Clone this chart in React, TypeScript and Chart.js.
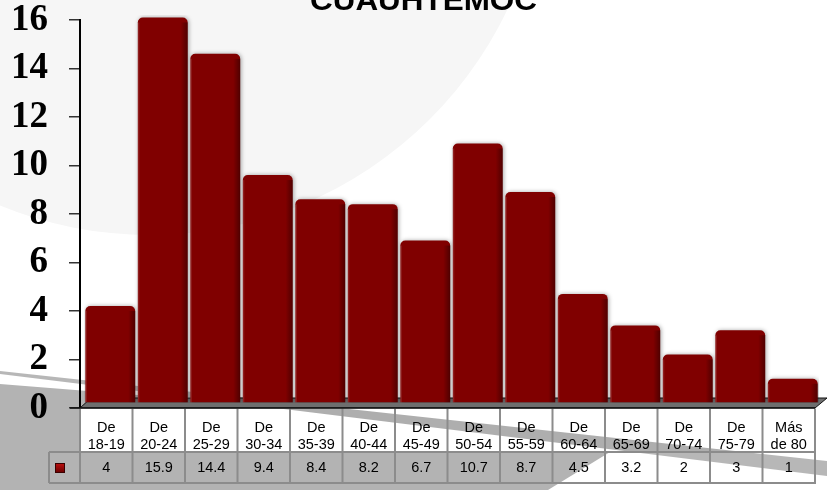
import { useEffect, useRef } from 'react';
import { Chart, registerables } from 'chart.js';

Chart.register(...registerables);

const title = 'CUAUHTEMOC';
const categories = [
  'De 18-19', 'De 20-24', 'De 25-29', 'De 30-34', 'De 35-39', 'De 40-44', 'De 45-49',
  'De 50-54', 'De 55-59', 'De 60-64', 'De 65-69', 'De 70-74', 'De 75-79', 'Más de 80',
];
const values = [4, 15.9, 14.4, 9.4, 8.4, 8.2, 6.7, 10.7, 8.7, 4.5, 3.2, 2, 3, 1];
const yMin = 0;
const yMax = 16;
const yStep = 2;

function streak(ctx: CanvasRenderingContext2D, color: string) {
  ctx.fillStyle = color;
  ctx.beginPath();
  ctx.moveTo(0, 371);
  ctx.lineTo(827, 461);
  ctx.lineTo(827, 476);
  ctx.lineTo(0, 374);
  ctx.closePath();
  ctx.fill();
}

const backgroundPlugin = {
  id: 'bg',
  beforeDraw(chart: any) {
    const { ctx, width, height } = chart;
    ctx.save();
    ctx.fillStyle = '#ffffff';
    ctx.fillRect(0, 0, width, height);
    ctx.fillStyle = '#f6f6f6';
    ctx.beginPath();
    ctx.arc(150, -161, 396, 0, Math.PI * 2);
    ctx.fill();
    ctx.fillStyle = '#b3b3b3';
    ctx.beginPath();
    ctx.moveTo(0, 384);
    ctx.lineTo(827, 450);
    ctx.lineTo(827, 490);
    ctx.lineTo(0, 490);
    ctx.closePath();
    ctx.fill();
    ctx.fillStyle = '#ffffff';
    ctx.beginPath();
    ctx.moveTo(548, 490);
    ctx.lineTo(610, 452);
    ctx.lineTo(827, 446);
    ctx.lineTo(827, 490);
    ctx.closePath();
    ctx.fill();
    streak(ctx, 'rgba(170,170,170,0.85)');
    ctx.restore();
  },
};

const barsPlugin = {
  id: 'bars3d',
  beforeDatasetsDraw(chart: any) {
    const { ctx, chartArea } = chart;
    ctx.save();
    ctx.fillStyle = '#6e6e6e';
    ctx.strokeStyle = '#111';
    ctx.lineWidth = 1;
    ctx.beginPath();
    ctx.moveTo(chartArea.left, chartArea.bottom);
    ctx.lineTo(chartArea.right, chartArea.bottom);
    ctx.lineTo(chartArea.right + 12, chartArea.bottom - 10);
    ctx.lineTo(chartArea.left + 11, chartArea.bottom - 10);
    ctx.closePath();
    ctx.fill();
    ctx.stroke();
    ctx.restore();
    ctx.save();
    ctx.translate(4, -5);
    ctx.shadowColor = 'rgba(0,0,0,0.35)';
    ctx.shadowBlur = 4;
    ctx.shadowOffsetX = 1;
    ctx.shadowOffsetY = 0;
  },
  afterDatasetsDraw(chart: any) {
    const { ctx } = chart;
    ctx.shadowColor = 'transparent';
    ctx.shadowBlur = 0;
    const meta = chart.getDatasetMeta(0);
    meta.data.forEach((bar: any) => {
      const { x, y, base, width } = bar.getProps(['x', 'y', 'base', 'width'], true);
      const r = x + width / 2;
      const g = ctx.createLinearGradient(r - 7, 0, r, 0);
      g.addColorStop(0, 'rgba(0,0,0,0)');
      g.addColorStop(1, 'rgba(0,0,0,0.38)');
      ctx.fillStyle = g;
      ctx.fillRect(r - 7, y + 5, 7, base - y - 5);
      const l = x - width / 2;
      ctx.fillStyle = 'rgba(255,255,255,0.12)';
      ctx.fillRect(l, y + 5, 1.5, base - y - 5);
    });
    ctx.restore();
  },
};

const tablePlugin = {
  id: 'table',
  afterDraw(chart: any) {
    const { ctx, chartArea } = chart;
    const xs = chart.scales.x;
    const n = categories.length;
    const left = chartArea.left;
    const right = chartArea.right;
    const cw = (right - left) / n;
    const rowTop = chartArea.bottom + 0.5;
    const rowMid = 452;
    const rowBot = 483;
    const legendLeft = 49;
    ctx.save();
    ctx.fillStyle = '#ffffff';
    ctx.fillRect(left, rowTop, right - left, rowMid - rowTop);
    ctx.save();
    ctx.beginPath();
    ctx.rect(left, rowTop, right - left, rowMid - rowTop);
    ctx.clip();
    streak(ctx, 'rgba(160,160,160,0.85)');
    ctx.restore();

    ctx.fillStyle = '#000';
    ctx.font = '14.5px "Liberation Sans", Arial, sans-serif';
    ctx.textAlign = 'center';
    ctx.textBaseline = 'middle';
    categories.forEach((c, i) => {
      const cx = xs.getPixelForValue(i);
      const sp = c.indexOf(' ');
      ctx.fillText(c.slice(0, sp), cx, 428);
      ctx.fillText(c.slice(sp + 1), cx, 445);
      ctx.fillText(String(values[i]), cx, 468);
    });

    ctx.strokeStyle = '#8c8c8c';
    ctx.lineWidth = 2;
    ctx.beginPath();
    for (let i = 0; i <= n; i++) {
      const x = left + i * cw;
      ctx.moveTo(x, rowTop);
      ctx.lineTo(x, rowBot);
    }
    ctx.moveTo(legendLeft, rowMid);
    ctx.lineTo(right, rowMid);
    ctx.moveTo(legendLeft, rowBot);
    ctx.lineTo(right + 1, rowBot);
    ctx.moveTo(legendLeft, rowMid);
    ctx.lineTo(legendLeft, rowBot);
    ctx.stroke();

    ctx.strokeStyle = '#111';
    ctx.lineWidth = 1.5;
    ctx.beginPath();
    ctx.moveTo(left - 10, chartArea.bottom);
    ctx.lineTo(right, chartArea.bottom);
    ctx.stroke();

    const g = ctx.createLinearGradient(0, 463, 0, 472);
    g.addColorStop(0, '#c01010');
    g.addColorStop(1, '#700000');
    ctx.fillStyle = g;
    ctx.fillRect(55.5, 463.5, 9, 9);
    ctx.strokeStyle = '#3a0000';
    ctx.lineWidth = 1;
    ctx.strokeRect(55.5, 463.5, 9, 9);

    ctx.fillStyle = '#000';
    ctx.font = 'bold 30px "Liberation Sans", Arial, sans-serif';
    ctx.textAlign = 'center';
    ctx.textBaseline = 'alphabetic';
    const w = ctx.measureText(title).width;
    ctx.translate(423.5, 10);
    ctx.scale(227 / w, 1);
    ctx.fillText(title, 0, 0);
    ctx.restore();
  },
};

export default function App() {
  const ref = useRef<HTMLCanvasElement>(null);
  useEffect(() => {
    if (!ref.current) return;
    const chart = new Chart(ref.current, {
      type: 'bar',
      data: {
        labels: categories,
        datasets: [
          {
            data: values,
            backgroundColor: '#800000',
            borderWidth: 0,
            borderRadius: { topLeft: 5, topRight: 5, bottomLeft: 0, bottomRight: 0 },
            borderSkipped: false,
            barPercentage: 0.95,
            categoryPercentage: 1,
          },
        ],
      },
      options: {
        animation: false,
        responsive: false,
        devicePixelRatio: 1,
        layout: { padding: { top: 20, right: 12, bottom: 82, left: 0 } },
        plugins: {
          legend: { display: false },
          title: { display: false },
          tooltip: { enabled: false },
        },
        scales: {
          x: { display: false },
          y: {
            min: yMin,
            max: yMax,
            ticks: {
              stepSize: yStep,
              autoSkip: false,
              color: '#000',
              padding: 21,
              font: { family: '"Liberation Serif", "Times New Roman", serif', size: 37, weight: 'bold' },
            },
            grid: {
              drawOnChartArea: false,
              drawTicks: true,
              tickLength: 11,
              color: '#333',
              lineWidth: 1.5,
            },
            border: { display: true, color: '#000', width: 2 },
            afterFit(scale: any) {
              scale.width = 80;
              scale.paddingTop = 0;
              scale.paddingBottom = 0;
            },
          },
        },
      },
      plugins: [backgroundPlugin, barsPlugin, tablePlugin],
    } as any);
    return () => chart.destroy();
  }, []);
  return (
    <div style={{ position: 'fixed', left: 0, top: 0, width: 827, height: 490 }}>
      <canvas ref={ref} width={827} height={490} style={{ display: 'block' }} />
    </div>
  );
}
